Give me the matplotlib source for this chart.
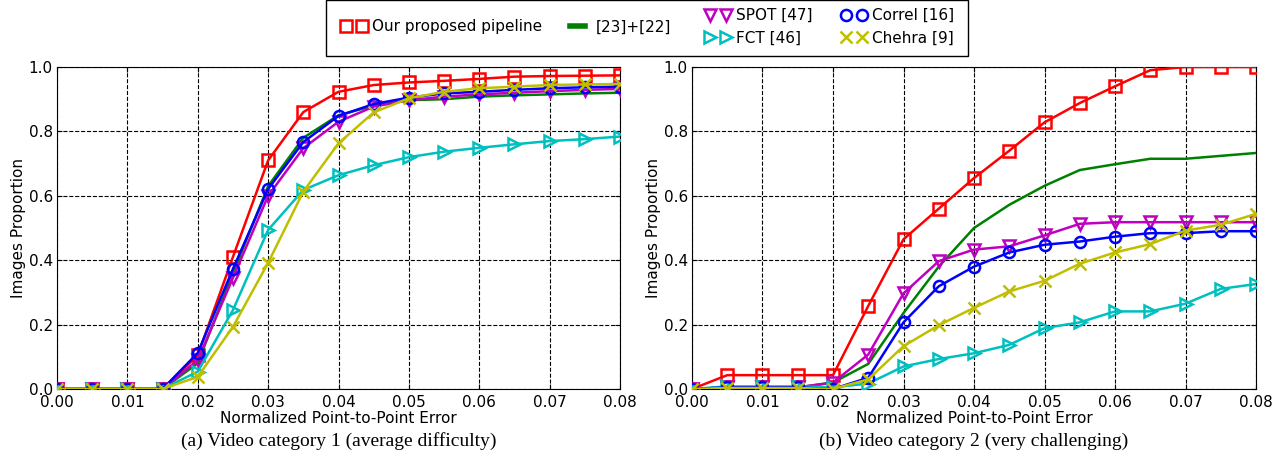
import matplotlib
matplotlib.use('Agg')
import matplotlib.pyplot as plt
from matplotlib.lines import Line2D
from matplotlib.patches import Rectangle

x_err = [0.0, 0.005, 0.01, 0.015, 0.02, 0.025, 0.03, 0.035, 0.04,
         0.045, 0.05, 0.055, 0.06, 0.065, 0.07, 0.075, 0.08]

# category 1 (average difficulty)
ours_1 = [0, 0, 0, 0, 0.105, 0.41, 0.71, 0.86, 0.923, 0.944, 0.952, 0.957, 0.963, 0.97, 0.972, 0.973, 0.974]
base_1 = [0, 0, 0, 0, 0.08, 0.36, 0.63, 0.78, 0.85, 0.88, 0.897, 0.90, 0.908, 0.912, 0.915, 0.918, 0.92]
spot_1 = [0, 0, 0, 0, 0.09, 0.345, 0.60, 0.748, 0.83, 0.877, 0.897, 0.908, 0.915, 0.92, 0.925, 0.929, 0.932]
fct_1 = [0, 0, 0, 0, 0.054, 0.245, 0.494, 0.618, 0.664, 0.695, 0.72, 0.737, 0.749, 0.76, 0.77, 0.776, 0.784]
correl_1 = [0, 0, 0, 0, 0.112, 0.373, 0.621, 0.767, 0.848, 0.885, 0.905, 0.918, 0.923, 0.929, 0.934, 0.937, 0.939]
chehra_1 = [0, 0, 0, 0, 0.038, 0.193, 0.392, 0.613, 0.763, 0.859, 0.903, 0.923, 0.934, 0.939, 0.944, 0.946, 0.947]

# category 2 (very challenging)
ours_2 = [0, 0.043, 0.043, 0.043, 0.043, 0.258, 0.465, 0.56, 0.655, 0.74, 0.828, 0.888, 0.94, 0.99, 1.0, 1.0, 1.0]
base_2 = [0, 0.005, 0.005, 0.005, 0.02, 0.078, 0.236, 0.38, 0.5, 0.572, 0.631, 0.68, 0.698, 0.715, 0.715, 0.724, 0.733]
spot_2 = [0, 0.005, 0.005, 0.005, 0.02, 0.107, 0.297, 0.397, 0.433, 0.443, 0.477, 0.513, 0.518, 0.518, 0.518, 0.518, 0.518]
fct_2 = [0, 0.008, 0.008, 0.008, 0.005, 0.017, 0.07, 0.093, 0.111, 0.137, 0.189, 0.207, 0.241, 0.241, 0.265, 0.311, 0.326]
correl_2 = [0, 0.005, 0.005, 0.005, 0.0, 0.035, 0.207, 0.319, 0.38, 0.424, 0.448, 0.458, 0.473, 0.484, 0.484, 0.49, 0.49]
chehra_2 = [0, 0.003, 0.003, 0.003, 0.0, 0.03, 0.133, 0.198, 0.252, 0.303, 0.336, 0.389, 0.424, 0.45, 0.492, 0.51, 0.544]

labels = ['Our proposed pipeline', '[23]+[22]', 'SPOT [47]', 'FCT [46]', 'Correl [16]', 'Chehra [9]']
colors = ['r', 'g', 'm', 'c', 'b', 'y']
markers = ['s', None, 'v', '>', 'o', 'x']
captions = ['(a) Video category 1 (average difficulty)', '(b) Video category 2 (very challenging)']

series = [
    [ours_1, base_1, spot_1, fct_1, correl_1, chehra_1],
    [ours_2, base_2, spot_2, fct_2, correl_2, chehra_2],
]

W, H = 1286, 463
fig = plt.figure(figsize=(W / 100, H / 100), dpi=100)

boxes = [(57, 67, 620, 389), (692, 67, 1256, 389)]
draw_order = [1, 3, 5, 2, 4, 0]

for k, (x0, y0, x1, y1) in enumerate(boxes):
    ax = fig.add_axes([x0 / W, 1 - y1 / H, (x1 - x0) / W, (y1 - y0) / H])
    for i in draw_order:
        ax.plot(x_err, series[k][i], color=colors[i], marker=markers[i],
                markersize=8, markerfacecolor='none', markeredgewidth=1.8,
                linewidth=1.8, label=labels[i], zorder=3 + i)
    ax.set_xlim(0, 0.08)
    ax.set_ylim(0, 1.0)
    ax.set_xticks([0.0, 0.01, 0.02, 0.03, 0.04, 0.05, 0.06, 0.07, 0.08])
    ax.set_xticklabels(['%.2f' % v for v in ax.get_xticks()])
    ax.set_yticks([0.0, 0.2, 0.4, 0.6, 0.8, 1.0])
    ax.set_yticklabels(['%.1f' % v for v in ax.get_yticks()])
    ax.tick_params(direction='in', top=True, right=True, labelsize=11, pad=3)
    ax.tick_params(axis='x', pad=4)
    ax.grid(True, color='black', linestyle='--', linewidth=0.8)
    ax.set_xlabel('Normalized Point-to-Point Error', fontsize=11, labelpad=1)
    ax.set_ylabel('Images Proportion', fontsize=11, labelpad=2)
    cx = (x0 + x1) / 2 / W
    fig.text(cx, 1 - 441 / H, captions[k], ha='center', va='center',
             fontsize=14, family='Liberation Serif')

# legend: boxed, two parts
handles = [Line2D([], [], color=colors[i], marker=markers[i], markersize=8,
                  markerfacecolor='none', markeredgewidth=1.8,
                  linewidth=0 if markers[i] else 4) for i in range(6)]

fig.add_artist(Rectangle((326 / W, 1 - 56 / H), (968 - 326) / W, 56 / H,
                         transform=fig.transFigure, facecolor='white',
                         edgecolor='black', linewidth=1))
leg1 = fig.legend([handles[0], handles[1]], [labels[0], labels[1]], ncol=2,
                  loc='center left', bbox_to_anchor=(328 / W, 1 - 27 / H),
                  frameon=False, fontsize=11, numpoints=2, handlelength=1.6,
                  handletextpad=0.4, columnspacing=1.5)
leg2 = fig.legend([handles[2], handles[3], handles[4], handles[5]],
                  [labels[2], labels[3], labels[4], labels[5]], ncol=2,
                  loc='center left', bbox_to_anchor=(692 / W, 1 - 27 / H),
                  frameon=False, fontsize=11, numpoints=2, handlelength=1.6,
                  handletextpad=0.4, columnspacing=1.9, labelspacing=0.5)

fig.savefig('out.png', dpi=100)
